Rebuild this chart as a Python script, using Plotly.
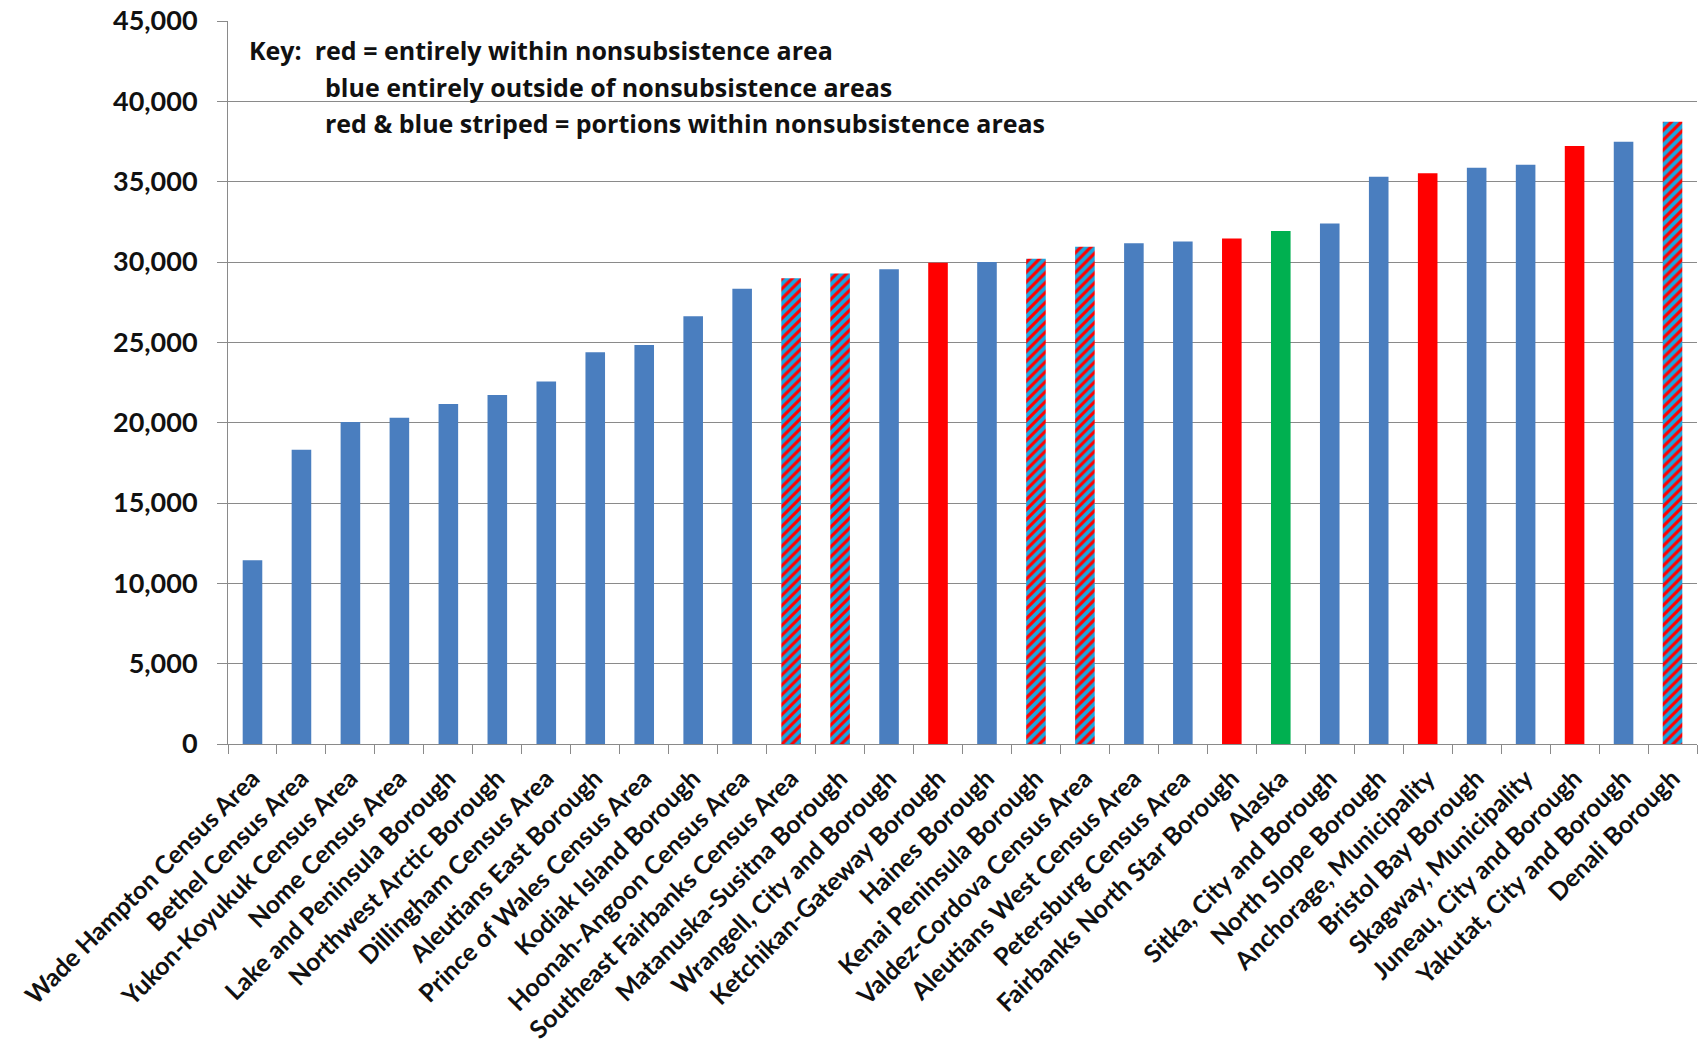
import plotly.graph_objects as go

# Per-capita income by Alaska borough / census area, sorted ascending
areas = [
    "Wade Hampton Census Area", "Bethel Census Area", "Yukon-Koyukuk Census Area",
    "Nome Census Area", "Lake and Peninsula Borough", "Northwest Arctic Borough",
    "Dillingham Census Area", "Aleutians East Borough", "Prince of Wales Census Area",
    "Kodiak Island Borough", "Hoonah-Angoon Census Area", "Southeast Fairbanks Census Area",
    "Matanuska-Susitna Borough", "Wrangell, City and Borough", "Ketchikan-Gateway Borough",
    "Haines Borough", "Kenai Peninsula Borough", "Valdez-Cordova Census Area",
    "Aleutians West Census Area", "Petersburg Census Area", "Fairbanks North Star Borough",
    "Alaska", "Sitka, City and Borough", "North Slope Borough",
    "Anchorage, Municipality", "Bristol Bay Borough", "Skagway, Municipality",
    "Juneau, City and Borough", "Yakutat, City and Borough", "Denali Borough",
]
income = [
    11430, 18320, 20040, 20310, 21160, 21720, 22570, 24380, 24840, 26630,
    28330, 28990, 29280, 29550, 29960, 30000, 30210, 30950, 31160, 31270,
    31470, 31930, 32390, 35310, 35520, 35870, 36060, 37220, 37490, 38730,
]
# outside / within / portions of nonsubsistence areas; "state" = statewide figure
status = [
    "outside", "outside", "outside", "outside", "outside", "outside",
    "outside", "outside", "outside", "outside", "outside", "portions",
    "portions", "outside", "within", "outside", "portions", "portions",
    "outside", "outside", "within", "state", "outside", "outside",
    "within", "outside", "outside", "within", "outside", "portions",
]
y_ticks = [0, 5000, 10000, 15000, 20000, 25000, 30000, 35000, 40000, 45000]
key_lines = [
    "Key:  red = entirely within nonsubsistence area",
    "blue entirely outside of nonsubsistence areas",
    "red & blue striped = portions within nonsubsistence areas",
]

BLUE = "#4A7EBF"
RED = "#FF0000"
GREEN = "#00B050"
STRIPE_BLUE = "#1AA6E0"

fill = {"outside": BLUE, "within": RED, "state": GREEN}

FONT = "Lato, 'Open Sans', 'DejaVu Sans', sans-serif"
KEY_FONT = "'Open Sans', Lato, 'DejaVu Sans', sans-serif"

solid_x = [a for a, s in zip(areas, status) if s != "portions"]
solid_y = [v for v, s in zip(income, status) if s != "portions"]
solid_c = [fill[s] for s in status if s != "portions"]
striped_x = [a for a, s in zip(areas, status) if s == "portions"]
striped_y = [v for v, s in zip(income, status) if s == "portions"]

fig = go.Figure()
fig.add_trace(go.Bar(
    x=solid_x, y=solid_y, width=0.4,
    marker=dict(color=solid_c, line=dict(width=0)),
))
# red & blue striped bars
fig.add_trace(go.Bar(
    x=striped_x, y=striped_y, width=0.4,
    marker=dict(
        color=STRIPE_BLUE, line=dict(width=0),
        pattern=dict(shape="/", fgcolor=RED, bgcolor=STRIPE_BLUE,
                     fgopacity=1, size=7, solidity=0.45, fillmode="overlay"),
    ),
))

for i, line in enumerate(key_lines):
    fig.add_annotation(
        text=line,
        xref="paper", yref="paper",
        x=0.0129 if i == 0 else 0.0647,
        y=[0.9599, 0.9087, 0.8589][i],
        xanchor="left", yanchor="middle",
        showarrow=False,
        font=dict(family=KEY_FONT, size=25, color="#111111", weight="bold"),
    )

fig.update_layout(
    width=1704, height=1053,
    margin=dict(l=228, r=7, t=21, b=309),
    paper_bgcolor="white",
    plot_bgcolor="white",
    showlegend=False,
    barmode="overlay",
    font=dict(family=FONT, color="#111111"),
)
fig.update_xaxes(
    type="category",
    categoryorder="array",
    categoryarray=areas,
    tickangle=-45,
    tickson="boundaries",
    ticks="outside",
    ticklen=9,
    tickcolor="#8a8a8a",
    ticklabelstandoff=9,
    showline=True,
    linecolor="#8a8a8a",
    linewidth=1,
    showgrid=False,
    automargin=False,
    tickfont=dict(family=FONT, size=25, color="#111111", weight="bold"),
)
fig.update_yaxes(
    range=[0, 45000],
    tickvals=y_ticks,
    tickformat=",d",
    ticks="outside",
    ticklen=10,
    tickcolor="#8a8a8a",
    ticklabelstandoff=14,
    showline=True,
    linecolor="#8a8a8a",
    linewidth=1,
    showgrid=True,
    gridcolor="#8a8a8a",
    gridwidth=1,
    zeroline=False,
    automargin=False,
    tickfont=dict(family=FONT, size=27, color="#111111", weight="bold"),
)

fig.write_html("out.html")
